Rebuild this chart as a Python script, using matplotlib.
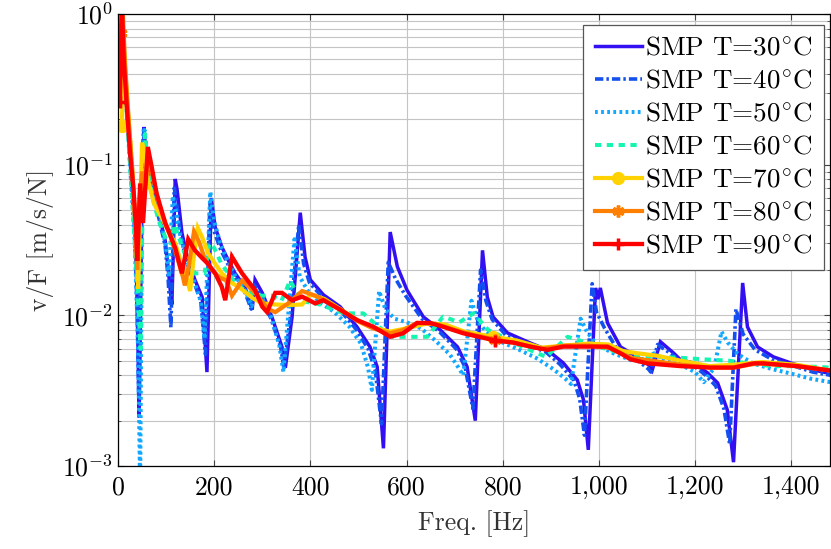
import matplotlib
matplotlib.use('Agg')
import matplotlib.pyplot as plt
import numpy as np
from matplotlib.ticker import FuncFormatter, LogLocator, NullFormatter

plt.rcParams['font.family'] = ['cmr10', 'DejaVu Serif']
plt.rcParams['mathtext.fontset'] = 'cm'
plt.rcParams['axes.formatter.use_mathtext'] = True
plt.rcParams['lines.scale_dashes'] = False

# ---------------- data ----------------
f30 = [3, 8, 15, 25, 35, 40, 44, 50, 54, 56, 62, 71, 83, 98, 104, 108, 112, 119, 123, 133, 144, 160, 175, 185,
       194, 202, 216, 229, 243, 264, 279, 285, 300, 320, 341, 348, 362, 373, 379, 389, 400, 427, 462, 497, 524,
       539, 552, 566, 581, 601, 635, 670, 706, 726, 743, 758, 768, 780, 810, 857, 893, 926, 955, 968, 978, 993,
       998, 1003, 1018, 1045, 1080, 1107, 1111, 1128, 1155, 1170, 1197, 1226, 1247, 1267, 1280, 1299, 1309,
       1330, 1363, 1399, 1446, 1482]
v30 = [0.6, 1.0, 0.35, 0.12, 0.04, 0.012, 0.0021, 0.06, 0.178, 0.146, 0.0966, 0.0711, 0.050, 0.0316, 0.021,
       0.0154, 0.0118, 0.0804, 0.0679, 0.0352, 0.0244, 0.0172, 0.0132, 0.0042, 0.060, 0.0386, 0.0284, 0.0233,
       0.0191, 0.0154, 0.0109, 0.0172, 0.0141, 0.00976, 0.00617, 0.00448, 0.00976, 0.0272, 0.048, 0.0244,
       0.0172, 0.0137, 0.0114, 0.00838, 0.00617, 0.00455, 0.00131, 0.0357, 0.021, 0.0147, 0.00976, 0.0080,
       0.00617, 0.00455, 0.0020, 0.027, 0.0132, 0.00976, 0.00764, 0.00656, 0.00589, 0.00483, 0.00373, 0.00275,
       0.00128, 0.0152, 0.0128, 0.0152, 0.0089, 0.00617, 0.0053, 0.0046, 0.00434, 0.00668, 0.00563, 0.00506,
       0.00483, 0.00415, 0.00356, 0.00236, 0.00106, 0.0164, 0.00838, 0.00617, 0.0053, 0.00483, 0.00434, 0.0041]

f40 = [3, 8, 15, 25, 35, 40, 43, 49, 53, 56, 62, 71, 83, 98, 104, 110, 117, 121, 131, 142, 158, 172, 182, 191,
       200, 214, 228, 242, 262, 277, 283, 298, 318, 338, 345, 358, 370, 376, 386, 398, 425, 460, 495, 520, 535,
       548, 562, 577, 598, 632, 668, 703, 722, 738, 754, 765, 778, 808, 855, 890, 920, 948, 960, 970, 986, 995,
       1012, 1040, 1078, 1103, 1108, 1122, 1152, 1170, 1195, 1222, 1243, 1260, 1272, 1285, 1300, 1325, 1360,
       1397, 1445, 1482]
v40 = [0.6, 1.0, 0.33, 0.11, 0.035, 0.01, 0.003, 0.08, 0.17, 0.14, 0.092, 0.068, 0.047, 0.029, 0.018, 0.0083,
       0.070, 0.058, 0.033, 0.023, 0.0165, 0.0125, 0.0055, 0.055, 0.036, 0.027, 0.022, 0.018, 0.0148, 0.011,
       0.016, 0.0135, 0.0095, 0.0062, 0.0045, 0.0095, 0.025, 0.040, 0.022, 0.0165, 0.0132, 0.011, 0.0081, 0.006,
       0.0043, 0.0019, 0.0225, 0.0175, 0.0135, 0.0095, 0.0078, 0.006, 0.0045, 0.0024, 0.020, 0.0125, 0.0094,
       0.0073, 0.0063, 0.0057, 0.0047, 0.0037, 0.0028, 0.0016, 0.0162, 0.0105, 0.0082, 0.0058, 0.0051, 0.0044,
       0.0042, 0.0064, 0.0055, 0.0049, 0.0047, 0.0040, 0.0034, 0.0024, 0.0014, 0.011, 0.0075, 0.0059, 0.0051,
       0.0047, 0.0042, 0.0040]

f50 = [3, 8, 15, 25, 35, 42, 46, 50, 55, 58, 65, 75, 88, 100, 106, 114, 120, 130, 142, 158, 172, 180, 192, 200,
       214, 228, 245, 265, 278, 285, 300, 320, 336, 344, 356, 367, 378, 395, 420, 450, 480, 505, 520, 528, 543,
       556, 575, 600, 630, 660, 690, 708, 718, 735, 748, 765, 790, 830, 870, 905, 930, 942, 962, 975, 995, 1030,
       1070, 1100, 1115, 1140, 1170, 1200, 1218, 1240, 1255, 1268, 1290, 1320, 1360, 1400, 1440, 1482]
v50 = [0.6, 1.0, 0.33, 0.1, 0.03, 0.006, 0.0007, 0.05, 0.17, 0.14, 0.09, 0.063, 0.045, 0.028, 0.018, 0.062,
       0.05, 0.033, 0.024, 0.017, 0.0125, 0.007, 0.066, 0.042, 0.029, 0.023, 0.018, 0.0145, 0.0115, 0.015,
       0.013, 0.0095, 0.0062, 0.0042, 0.012, 0.032, 0.018, 0.0145, 0.0122, 0.0105, 0.0085, 0.0065, 0.0045,
       0.0032, 0.0145, 0.011, 0.0095, 0.009, 0.0082, 0.0068, 0.0055, 0.0045, 0.0040, 0.0125, 0.0092, 0.0078,
       0.0068, 0.006, 0.0052, 0.0044, 0.0038, 0.0035, 0.0095, 0.0078, 0.0064, 0.0056, 0.005, 0.0052, 0.0056,
       0.005, 0.0047, 0.0042, 0.0036, 0.0045, 0.0078, 0.0066, 0.0055, 0.0048, 0.0044, 0.0041, 0.0038, 0.0036]

f60 = [3, 8, 15, 25, 35, 42, 47, 52, 56, 62, 72, 85, 100, 110, 118, 125, 140, 160, 180, 190, 200, 215, 240, 265,
       290, 320, 340, 358, 380, 420, 470, 510, 540, 570, 600, 643, 676, 710, 739, 770, 800, 840, 890, 935, 960,
       1000, 1030, 1080, 1130, 1180, 1220, 1270, 1310, 1360, 1420, 1482]
v60 = [0.6, 1.0, 0.33, 0.1, 0.03, 0.012, 0.006, 0.09, 0.16, 0.1, 0.06, 0.042, 0.032, 0.030, 0.04, 0.034, 0.025,
       0.019, 0.019, 0.030, 0.028, 0.022, 0.017, 0.0145, 0.0135, 0.0135, 0.0125, 0.017, 0.0125, 0.0118, 0.0103,
       0.0103, 0.0085, 0.0072, 0.0072, 0.0072, 0.0098, 0.009, 0.0103, 0.008, 0.0072, 0.0062, 0.0053, 0.0072,
       0.0068, 0.0062, 0.0058, 0.0054, 0.0053, 0.0052, 0.0051, 0.0050, 0.0048, 0.0046, 0.0046, 0.0045]

f70 = [8, 12, 18, 25, 32, 38, 42, 46, 50, 55, 62, 75, 90, 105, 119, 130, 140, 150, 158, 166, 175, 187, 202, 216,
       235, 250, 262, 280, 300, 327, 354, 383, 400, 430, 470, 500, 530, 566, 600, 640, 680, 720, 780, 830, 880,
       930, 980, 1020, 1050, 1080, 1120, 1170, 1230, 1280, 1340, 1410, 1482]
v70 = [0.18, 0.6, 0.3, 0.15, 0.07, 0.03, 0.015, 0.05, 0.14, 0.12, 0.08, 0.055, 0.045, 0.036, 0.030, 0.023,
       0.019, 0.0145, 0.025, 0.038, 0.033, 0.026, 0.022, 0.019, 0.0165, 0.0155, 0.0145, 0.0130, 0.0120, 0.0118,
       0.0117, 0.0118, 0.0138, 0.0128, 0.0106, 0.0092, 0.0083, 0.0078, 0.0082, 0.0088, 0.0087, 0.0078, 0.0072,
       0.0068, 0.0061, 0.0063, 0.0065, 0.0064, 0.0058, 0.0056, 0.0054, 0.0050, 0.0046, 0.0047, 0.0049, 0.0047,
       0.0043]

f80 = [6, 10, 15, 22, 30, 36, 40, 45, 50, 56, 62, 70, 85, 100, 115, 125, 135, 139, 148, 158, 168, 180, 195, 210,
       225, 237, 258, 285, 312, 327, 354, 383, 410, 430, 470, 500, 530, 566, 593, 622, 660, 700, 740, 785, 830,
       880, 930, 980, 1020, 1045, 1070, 1110, 1170, 1230, 1280, 1330, 1410, 1482]
v80 = [0.75, 1.0, 0.45, 0.2, 0.09, 0.04, 0.02, 0.06, 0.09, 0.07, 0.12, 0.09, 0.055, 0.040, 0.030, 0.023, 0.018,
       0.0158, 0.022, 0.036, 0.031, 0.024, 0.020, 0.018, 0.017, 0.0135, 0.017, 0.0141, 0.011, 0.0105, 0.012,
       0.0145, 0.0135, 0.0126, 0.0105, 0.0091, 0.0082, 0.0076, 0.0080, 0.0089, 0.0088, 0.0080, 0.0074, 0.0069,
       0.0065, 0.0060, 0.0063, 0.0063, 0.0061, 0.0056, 0.0052, 0.0050, 0.0047, 0.0045, 0.0045, 0.0048, 0.0046,
       0.0043]

f90 = [4, 8, 12, 18, 25, 32, 37, 40, 46, 52, 58, 62, 70, 80, 98, 104, 119, 133, 146, 160, 175, 187, 202, 216,
       223, 237, 258, 285, 300, 310, 327, 341, 362, 383, 410, 427, 462, 497, 531, 566, 593, 622, 649, 676, 718,
       785, 822, 857, 893, 926, 962, 1018, 1045, 1066, 1101, 1170, 1232, 1280, 1322, 1342, 1413, 1482]
v90 = [0.26, 1.2, 0.5, 0.25, 0.12, 0.07, 0.04, 0.023, 0.075, 0.041, 0.08, 0.131, 0.097, 0.065, 0.041, 0.037,
       0.028, 0.019, 0.032, 0.027, 0.024, 0.022, 0.019, 0.0154, 0.0126, 0.0245, 0.019, 0.0147, 0.0114, 0.0105,
       0.0141, 0.0141, 0.0126, 0.0133, 0.012, 0.0126, 0.0109, 0.0093, 0.0084, 0.0072, 0.0076, 0.0089, 0.0089,
       0.0084, 0.0076, 0.0068, 0.0066, 0.0062, 0.0059, 0.0062, 0.0062, 0.0062, 0.0056, 0.0051, 0.0048, 0.0046,
       0.0045, 0.0045, 0.0048, 0.0048, 0.0046, 0.0043]

labels = [r'SMP T=30$^{\circ}$C', r'SMP T=40$^{\circ}$C', r'SMP T=50$^{\circ}$C', r'SMP T=60$^{\circ}$C',
          r'SMP T=70$^{\circ}$C', r'SMP T=80$^{\circ}$C', r'SMP T=90$^{\circ}$C']
xticks = [0, 200, 400, 600, 800, 1000, 1200, 1400]

# ---------------- styles ----------------
series = [(f30, v30), (f40, v40), (f50, v50), (f60, v60), (f70, v70), (f80, v80), (f90, v90)]
colors = ['#3210F2', '#1450F0', '#12A8FF', '#14F5B0', '#FFD200', '#FF7F00', '#FF0000']
dashes = [None, (6, 2.2, 1.8, 2.2), (2.0, 2.4), (4.5, 4.0), None, None, None]
markers = [None, None, None, None, 'o', (6, 2, 0), '+']
lws = [2.5, 2.6, 2.9, 2.9, 3.0, 3.0, 3.1]

fig = plt.figure(figsize=(8.31, 5.49), dpi=100)
ax = fig.add_axes([0.142, 0.1512, 0.857, 0.8233])

for (f, v), c, d, m, lw, lab in zip(series, colors, dashes, markers, lws, labels):
    kw = dict(color=c, lw=lw, label=lab, solid_joinstyle='miter')
    if d is not None:
        kw['dashes'] = d
    if m is not None:
        fa = np.asarray(f)
        idx = [0, int(np.argmin(np.abs(fa - 785)))]
        kw.update(marker=m, markevery=idx, markersize=8.5 if m != 'o' else 7,
                  markeredgewidth=2.5, markerfacecolor=c, markeredgecolor=c)
    ax.plot(f, v, **kw)

ax.set_yscale('log')
ax.set_ylim(1e-3, 1.0)
ax.set_xlim(0, 1481)
ax.set_xticks(xticks)
ax.xaxis.set_major_formatter(FuncFormatter(lambda x, p: f'{int(round(x)):,}'))
ax.yaxis.set_major_locator(LogLocator(base=10, numticks=10))
ax.yaxis.set_minor_locator(LogLocator(base=10, subs=np.arange(2, 10), numticks=50))
ax.yaxis.set_minor_formatter(NullFormatter())

ax.grid(True, which='major', color='#c4c4c4', lw=0.8)
ax.grid(True, which='minor', axis='y', color='#c4c4c4', lw=0.8)
ax.set_axisbelow(True)
ax.tick_params(which='both', direction='in', top=True, right=True, labelsize=18.5, color='#444444')
ax.tick_params(which='major', length=4)
ax.tick_params(which='minor', length=2.5)
ax.tick_params(axis='x', pad=7)
for s in ax.spines.values():
    s.set_color('black')
    s.set_linewidth(0.9)

ax.set_xlabel('Freq. [Hz]', fontsize=18.5, color='#333333', labelpad=8)
ax.set_ylabel('v/F [m/s/N]', fontsize=18.5, color='#333333', labelpad=6)

leg = ax.legend(loc='upper right', bbox_to_anchor=(0.9915, 0.976), fontsize=19.5, frameon=True,
                fancybox=False, framealpha=1, edgecolor='#555555', handlelength=1.75,
                handletextpad=0.12, labelspacing=0.335, borderpad=0.42, borderaxespad=0.0)
leg.get_frame().set_linewidth(0.9)

fig.savefig('out.png', dpi=100)
